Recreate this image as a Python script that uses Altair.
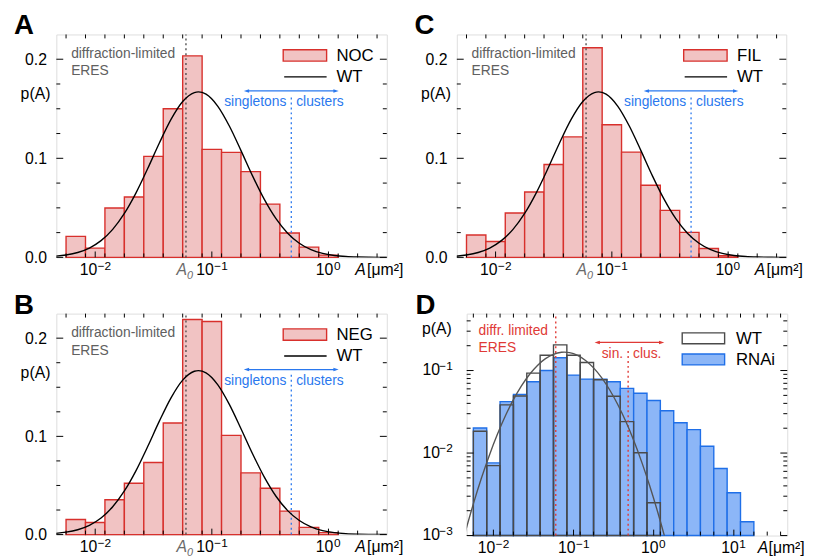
import altair as alt
import pandas as pd

# ---------------- data ----------------
# histogram bins are 1/6 decade wide, centred on 10^(k/6)
ABC_BIN_K = list(range(-13, 1))     # 14 bins, panels A-C and WT in D
D_BIN_K = list(range(-13, 8))       # 21 bins, RNAi in D

NOC = [0.0212, 0.0093, 0.0498, 0.0610, 0.1020, 0.1500, 0.2034, 0.1090, 0.1060, 0.0866, 0.0538, 0.0246, 0.0103, 0.0023]
FIL = [0.0226, 0.0160, 0.0448, 0.0660, 0.0937, 0.1216, 0.2116, 0.1339, 0.1063, 0.0728, 0.0475, 0.0252, 0.0090, 0.0017]
NEG = [0.0153, 0.0123, 0.0355, 0.0522, 0.0734, 0.1136, 0.2190, 0.2170, 0.1010, 0.0628, 0.0472, 0.0239, 0.0073, 0.0020]
D_WT = [0.0184, 0.00705, 0.0384, 0.0492, 0.0929, 0.153, 0.205, 0.153, 0.125, 0.0773, 0.0488, 0.0240, 0.0101, 0.0025]
D_RNAI = [0.0201, 0.0076, 0.0420, 0.0515, 0.0731, 0.100, 0.143, 0.088, 0.0787, 0.0787, 0.0731, 0.0608,
          0.0530, 0.0433, 0.0325, 0.0233, 0.0192, 0.0121, 0.0065, 0.0033, 0.00147]

# WT log-normal fit curve (log10 A, p)
FIT_LOG10A = [-2.35, -2.25, -2.15, -2.05, -1.95, -1.85, -1.75, -1.65, -1.55, -1.45, -1.35, -1.25, -1.15, -1.115,
              -1.05, -0.95, -0.85, -0.75, -0.65, -0.55, -0.45, -0.35, -0.25, -0.15, -0.05, 0.05, 0.15, 0.25,
              0.35, 0.45, 0.55]
FIT_P = [0.00111, 0.00242, 0.00494, 0.00943, 0.01688, 0.02828, 0.04437, 0.06518, 0.08965, 0.11548, 0.13926,
         0.1573, 0.16633, 0.167, 0.1647, 0.1527, 0.13257, 0.10777, 0.08203, 0.05848, 0.03903, 0.0244, 0.01428,
         0.00782, 0.00401, 0.00193, 0.000867, 0.000365, 0.000144, 0.0000534, 0.0000186]

# tick labels: 10^exponent
ABC_X_DECADES = [0.01, 0.1, 1]
ABC_X_EXP = ["−2", "−1", "0"]
D_X_DECADES = [0.01, 0.1, 1, 10]
D_X_EXP = ["−2", "−1", "0", "1"]
D_Y_DECADES = [0.001, 0.01, 0.1]
D_Y_EXP = ["−3", "−2", "−1"]

A0 = 0.06            # diffraction-limited area
A_SPLIT = 0.48       # singletons / clusters threshold
ARROW_ABC = [0.2, 1.15, 0.168]
ARROW_D = [0.2, 1.24, 0.219]

FONT = "Liberation Sans"
PINK = "#f1c3c3"
RED = "#d8302c"
BLUE = "#2a78ee"
LBLUE = "#8cb6f7"
DBLUE = "#1f6fe8"
GRAYTXT = "#606060"
DRED = "#e03a36"


def bins_df(ks, vals, base):
    return pd.DataFrame({
        "lo": [10 ** ((k - 0.5) / 6) for k in ks],
        "hi": [10 ** ((k + 0.5) / 6) for k in ks],
        "p": vals,
        "b": [base] * len(vals),
    })


fit_df = pd.DataFrame({"A": [10 ** v for v in FIT_LOG10A], "p": FIT_P})


def txt(text, x, y, size=14, color="black", align="left", baseline="middle", style="normal", weight="normal"):
    return alt.Chart(pd.DataFrame({"t": [text]})).mark_text(
        align=align, baseline=baseline, fontSize=size, color=color, font=FONT,
        fontStyle=style, fontWeight=weight).encode(x=alt.value(x), y=alt.value(y), text="t:N")


class Panel:
    def __init__(self, xs, ys, yaxis):
        self.xs, self.ys, self.ya = xs, ys, yaxis

    def X(self, f):
        return alt.X(f, scale=self.xs, axis=None)

    def Y(self, f):
        return alt.Y(f, scale=self.ys, axis=self.ya)

    def xticks(self, vals, H, L, top=True):
        b = alt.Chart(pd.DataFrame({"v": vals})).mark_rule(color="black", strokeWidth=1)
        out = [b.encode(x=self.X("v:Q"), y=alt.value(H), y2=alt.value(H - L))]
        if top:
            out.append(b.encode(x=self.X("v:Q"), y=alt.value(0), y2=alt.value(L)))
        return out

    def yticks(self, vals, W, L):
        b = alt.Chart(pd.DataFrame({"v": vals})).mark_rule(color="black", strokeWidth=1)
        return [b.encode(y=self.Y("v:Q"), x=alt.value(0), x2=alt.value(L)),
                b.encode(y=self.Y("v:Q"), x=alt.value(W), x2=alt.value(W - L))]

    def xlabels(self, vals, exps, H):
        out = []
        for v, e in zip(vals, exps):
            df = pd.DataFrame({"v": [v], "b": ["10"], "e": [e]})
            dx = 2 if e.startswith("−") else 5
            out.append(alt.Chart(df).mark_text(align="right", baseline="top", fontSize=16, font=FONT,
                                               dx=dx).encode(x=self.X("v:Q"), y=alt.value(H + 5), text="b:N"))
            out.append(alt.Chart(df).mark_text(align="left", baseline="top", fontSize=12, font=FONT,
                                               dx=dx + 0.5).encode(x=self.X("v:Q"), y=alt.value(H + 4), text="e:N"))
        return out

    def ylabels(self, vals, exps):
        df = pd.DataFrame({"v": vals, "b": ["10"] * len(vals), "e": exps})
        return [alt.Chart(df).mark_text(align="right", baseline="middle", fontSize=16, font=FONT).encode(
                    x=alt.value(-27), y=self.Y("v:Q"), text="b:N"),
                alt.Chart(df).mark_text(align="right", baseline="middle", fontSize=12, font=FONT, dy=-5).encode(
                    x=alt.value(-14), y=self.Y("v:Q"), text="e:N")]

    def arrow(self, spec, color):
        a, b, y = spec
        df = pd.DataFrame({"a": [a], "b": [b], "y": [y]})
        line = alt.Chart(df).mark_rule(color=color, strokeWidth=1.2).encode(
            x=self.X("a:Q"), x2="b:Q", y=self.Y("y:Q"))
        left = alt.Chart(df).mark_point(shape="M -1 0 L 0.7 -0.55 L 0.7 0.55 Z", filled=True, color=color,
                                        size=40, opacity=1).encode(x=self.X("a:Q"), y=self.Y("y:Q"))
        right = alt.Chart(df).mark_point(shape="M 1 0 L -0.7 -0.55 L -0.7 0.55 Z", filled=True, color=color,
                                         size=40, opacity=1).encode(x=self.X("b:Q"), y=self.Y("y:Q"))
        return [line, left, right]

    def vline(self, v, y0, y1, color, width=1.3):
        return alt.Chart(pd.DataFrame({"v": [v], "y0": [y0], "y1": [y1]})).mark_rule(
            color=color, strokeDash=[2, 3], strokeWidth=width).encode(
            x=self.X("v:Q"), y=self.Y("y0:Q"), y2="y1:Q")

    def split_labels(self, left, right, y, color):
        df = pd.DataFrame({"v": [A_SPLIT], "y": [y]})
        l1 = alt.Chart(df).mark_text(align="right", baseline="middle", dx=-5, fontSize=14, color=color,
                                     font=FONT, text=left).encode(x=self.X("v:Q"), y=self.Y("y:Q"))
        l2 = alt.Chart(df).mark_text(align="left", baseline="middle", dx=5, fontSize=14, color=color,
                                     font=FONT, text=right).encode(x=self.X("v:Q"), y=self.Y("y:Q"))
        return [l1, l2]


bin_edges_ticks = [10 ** ((k + 0.5) / 6) for k in range(-14, 3)]


def panel_abc(letter, name, vals, W, H):
    xs = alt.Scale(type="log", domain=[10 ** (-7 / 3), 10 ** 0.5], nice=False)
    ys = alt.Scale(domain=[0, 0.225], nice=False, zero=False)
    yaxis = alt.Axis(values=[0, 0.1, 0.2], format=".1f", ticks=False, domain=False, grid=False, title=None,
                     labelPadding=10, labelFontSize=16, labelFlush=False)
    P = Panel(xs, ys, yaxis)
    df = bins_df(ABC_BIN_K, vals, 0.0)
    bars = alt.Chart(df).mark_rect(fill=PINK, stroke=RED, strokeWidth=1.4).encode(
        x=P.X("lo:Q"), x2="hi:Q", y=P.Y("b:Q"), y2="p:Q")
    a0 = P.vline(A0, 0.0, 0.225, "#444444")
    split = P.vline(A_SPLIT, 0.0, 0.163, BLUE)
    fit = alt.Chart(fit_df).mark_line(color="black", strokeWidth=1.4, clip=True, interpolate="monotone").encode(
        x=P.X("A:Q"), y=P.Y("p:Q"))
    ticks = (P.xticks(bin_edges_ticks, H, 4) + P.xticks(ABC_X_DECADES, H, 6, top=False)
             + P.yticks([0.025 * i for i in range(9) if i % 4], W, 4)
             + P.yticks([0.0, 0.1, 0.2], W, 7))
    a0df = pd.DataFrame({"v": [A0]})
    a0lab = [
        alt.Chart(a0df).mark_text(align="right", baseline="top", fontSize=16, font=FONT, fontStyle="italic",
                                  color="#6a6a6a", text="A", dx=1).encode(x=P.X("v:Q"), y=alt.value(H + 5)),
        alt.Chart(a0df).mark_text(align="left", baseline="top", fontSize=11, font=FONT, fontStyle="italic",
                                  color="#6a6a6a", text="0", dx=1).encode(x=P.X("v:Q"), y=alt.value(H + 13)),
    ]
    leg = [
        alt.Chart(pd.DataFrame({"t": [0]})).mark_rect(fill=PINK, stroke=RED, strokeWidth=1.4).encode(
            x=alt.value(230), x2=alt.value(274), y=alt.value(15.5), y2=alt.value(27)),
        alt.Chart(pd.DataFrame({"t": [0]})).mark_rule(color="black", strokeWidth=1.4).encode(
            x=alt.value(231), x2=alt.value(274), y=alt.value(43)),
        txt(name, 284, 21.5, size=17),
        txt("WT", 284, 43.5, size=17),
    ]
    notes = [
        txt("diffraction-limited", 15, 20, size=14, color=GRAYTXT),
        txt("ERES", 15, 37.5, size=14, color=GRAYTXT),
        txt(letter, -43, 0, size=28, weight="bold", baseline="alphabetic"),
        txt("p(A)", -6, 60, size=16, align="right"),
        txt("A", W - 32, H + 5, size=16, style="italic", baseline="top"),
        txt("[μm²]", W - 20, H + 5, size=16, baseline="top"),
    ]
    layers = ([bars, a0, split, fit] + P.split_labels("singletons", "clusters", 0.1567, BLUE)
              + P.arrow(ARROW_ABC, BLUE) + ticks + P.xlabels(ABC_X_DECADES, ABC_X_EXP, H) + a0lab
              + leg + notes)
    return alt.layer(*layers).properties(width=W, height=H)


def panel_d(W, H):
    xs = alt.Scale(type="log", domain=[10 ** (-7 / 3), 10 ** (5 / 3)], nice=False)
    ys = alt.Scale(type="log", domain=[1e-3, 10 ** -0.31], nice=False)
    P = Panel(xs, ys, None)
    rn = bins_df(D_BIN_K, D_RNAI, 1e-3)
    wt = bins_df(ABC_BIN_K, D_WT, 1e-3)
    rbars = alt.Chart(rn).mark_rect(fill=LBLUE, stroke=DBLUE, strokeWidth=1.4).encode(
        x=P.X("lo:Q"), x2="hi:Q", y=P.Y("b:Q"), y2="p:Q")
    wbars = alt.Chart(wt).mark_rect(fill="transparent", fillOpacity=0, stroke="#4a4a4a", strokeWidth=1.4).encode(
        x=P.X("lo:Q"), x2="hi:Q", y=P.Y("b:Q"), y2="p:Q")
    a0 = P.vline(A0, 1e-3, 10 ** -0.31, DRED, 1.4)
    split = P.vline(A_SPLIT, 1e-3, 0.184, DRED, 1.4)
    fit = alt.Chart(fit_df).mark_line(color="#555555", strokeWidth=1.4, clip=True, interpolate="monotone").encode(
        x=P.X("A:Q"), y=P.Y("p:Q"))
    minors = [m * 10 ** e for e in (-3, -2, -1) for m in range(2, 10) if m * 10 ** e < 0.49]
    ticks = (P.xticks([10 ** ((k + 0.5) / 6) for k in range(-14, 10)], H, 4)
             + P.xticks(D_X_DECADES, H, 6, top=False)
             + P.yticks(minors, W, 4) + P.yticks(D_Y_DECADES, W, 7))
    leg = [
        alt.Chart(pd.DataFrame({"t": [0]})).mark_rect(fill="white", stroke="#4a4a4a", strokeWidth=1.4).encode(
            x=alt.value(218.5), x2=alt.value(261.5), y=alt.value(19.5), y2=alt.value(30.5)),
        alt.Chart(pd.DataFrame({"t": [0]})).mark_rect(fill=LBLUE, stroke=DBLUE, strokeWidth=1.4).encode(
            x=alt.value(218.5), x2=alt.value(261.5), y=alt.value(41), y2=alt.value(52)),
        txt("WT", 273, 25.5, size=17),
        txt("RNAi", 273, 47, size=17),
    ]
    notes = [
        txt("diffr. limited", 12, 18, size=14, color=DRED),
        txt("ERES", 12, 35, size=14, color=DRED),
        txt("D", -52, 0, size=28, weight="bold", baseline="alphabetic"),
        txt("p(A)", -15, 16, size=16, align="right"),
        txt("A", W - 30, H + 5, size=16, style="italic", baseline="top"),
        txt("[μm²]", W - 19, H + 5, size=16, baseline="top"),
    ]
    layers = ([rbars, wbars, a0, split, fit] + P.split_labels("sin.", "clus.", 0.159, DRED)
              + P.arrow(ARROW_D, DRED) + ticks + P.xlabels(D_X_DECADES, D_X_EXP, H)
              + P.ylabels(D_Y_DECADES, D_Y_EXP) + leg + notes)
    return alt.layer(*layers).properties(width=W, height=H)


pA = panel_abc("A", "NOC", NOC, 335, 226)
pC = panel_abc("C", "FIL", FIL, 334, 226)
pB = panel_abc("B", "NEG", NEG, 335, 224)
pD = panel_d(325, 225)

row1 = alt.hconcat(pA, pC, spacing=71, bounds="flush")
row2 = alt.hconcat(pB, pD, spacing=81, bounds="flush")

chart = alt.vconcat(row1, row2, spacing=9).properties(
    padding={"left": 5, "top": 0, "right": 0, "bottom": 0}
).configure_view(stroke="black", strokeWidth=1.2).configure_axis(
    labelFont=FONT, labelColor="black"
).configure(background="white")

chart.save("out.html", embed_options={"renderer": "svg", "actions": False})
